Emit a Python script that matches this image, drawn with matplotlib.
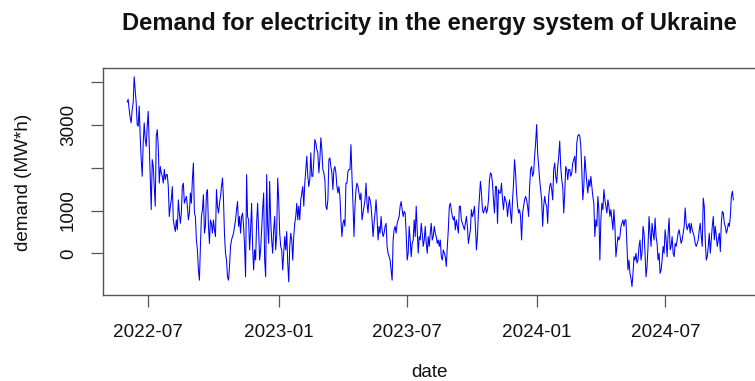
"""
Daily electricity demand in the energy system of Ukraine, 2022-06 .. 2024-10.
Base-graphics look: boxed axes, outward ticks, blue line.
"""

import pandas as pd
import matplotlib.pyplot as plt
import matplotlib.dates as mdates

# =============================================================================
# 1. Data (MW*h), evenly spaced in time between the first and last date
# =============================================================================

start_date = "2022-06-01"
end_date = "2024-10-05"

demand_2022 = [
    3540, 3600, 3360, 3170, 3050, 3360, 3520, 4130, 3830, 3520, 3010, 2970,
    3440, 2740, 2190, 1800, 2580, 3050, 2660, 2500, 2970, 3320, 2580, 1800,
    1020, 2190, 2030, 1560, 1100, 2740, 2890, 2500, 1640, 2030, 1880, 1800,
    1640, 1960, 1720, 1840, 1840, 1560, 860, 1100, 1250, 1560, 780, 630,
    510, 780, 550, 1250, 940, 700, 940, 1560, 1640, 1170, 1250, 1330,
    1100, 780, 940, 1410, 1170, 1720, 2110, 940, 860, 310, 80, -390,
    -630, 160, 860, 1020, 1370, 470, 630, 1410, 1490, 630, 230, 780,
    700, 470, 780, 550, 390, 1490, 1100, 940, 1170, 1330, 1560, 1760,
    1250, 430, 0, -160, -550, -630, -310, 160, 310, 390, 470, 630,
    780, 1020, 1210, 630, 860, 470, 860, 940, 630, 160, -550, 1840,
    860, 780, 80, 550, 1170, 160, -390, 80, -160, 700, 1170, 550,
    -160, 80, 550, 1020, 1410, -160, -550, 1840, 630, 230, 1680, 780,
    310, 0, 550, 860, 80, 430, 1760, 1250, 470, 160, 80, -390,
    0, 390, 80, 510, -230, -670, 160, 470, 310, -160, 390, 700,
    860, 1170, 780, 1100, 780, 1250, 1410, 1560, 1100, 1640, 1960, 2270,
    1800, 1560, 1720, 2350, 1800, 1800, 2190, 2660, 2580, 2420, 2350, 1880,
    2190, 2700, 2420, 1960, 1880, 1720, 1100, 1020, 1250, 2190, 2230, 2030,
    1880, 1490, 1960, 2030, 1880, 1560, 1410, 1560, 1330, 780, 390, 700,
    780, 630, 1640, 1640, 1920, 1960,
]

demand_2023 = [
    1960, 2540, 1800, 1170, 390, 1100, 1490, 1640, 1560, 1410, 1250, 1410,
    780, 940, 1100, 1250, 1640, 1170, 940, 1330, 1250, 1100, 780, 390,
    700, 940, 1250, 860, 310, 630, 470, 860, 550, 390, 470, 630,
    700, 160, 0, -80, -160, -390, -630, 310, 550, 630, 470, 700,
    780, 860, 1100, 1210, 1020, 860, 980, 940, 470, -160, 0, 630,
    310, -80, 230, 310, 780, 390, 1100, 550, 0, 390, 310, 700,
    470, 160, 310, 630, 230, 0, 390, 160, 470, 700, 310, 390,
    630, 470, 390, 230, 310, 160, 310, -80, -160, 80, 0, -80,
    -310, 160, 550, 1100, 1170, 1020, 860, 780, 860, 550, 780, 630,
    470, 1100, 1100, 780, 700, 630, 550, 700, 860, 630, 230, 390,
    550, 1020, 860, 940, 1100, 630, 80, 390, 940, 1330, 1680, 1410,
    1020, 940, 1020, 1100, 940, 1020, 1250, 1720, 1880, 1840, 1640, 1250,
    940, 1560, 1560, 700, 1490, 1410, 1410, 1640, 1250, 1020, 1330, 1250,
    1170, 860, 1100, 1250, 940, 700, 1250, 1640, 2190, 1880, 1410, 1100,
    940, 1020, 860, 310, 940, 1100, 1250, 1330, 1250, 1100, 860, 1560,
    1960, 2030, 1800, 1880, 2270, 2580, 3010, 2350, 2030, 1720, 1490, 1250,
    630, 1100, 1330, 1170, 1100, 700, 1330, 1560, 1640, 1490, 1250, 1960,
    2110, 1800, 1640, 2030, 2270, 2620, 2030, 1720, 1560, 940, 1410, 2030,
    1960, 1720, 1960, 1960, 1800, 1880, 2110, 2190, 2270, 1880, 2580, 2740,
    2780, 2740,
]

demand_2024 = [
    2500, 1960, 1250, 1560, 2270, 1960, 1640, 1410, 1720, 1560, 1800, 1560,
    1330, 1170, 390, 780, 630, 1330, 1020, -160, 780, 1170, 1020, 1490,
    1250, 1100, 940, 1250, 1100, 860, 1020, 780, 550, 1020, 630, -80,
    160, 390, 310, 390, 630, 700, 780, 630, 780, 780, 160, -390,
    -160, -470, -590, -780, -470, -80, -160, 0, -230, -160, 160, 310,
    -160, 0, 630, 470, 0, -550, -310, 160, 860, 470, 160, 700,
    470, 310, 820, 390, 230, -160, 0, -470, -390, -160, 160, 0,
    550, 310, -80, 470, 820, 80, 160, 390, 0, -80, 230, 160,
    310, 470, 550, 390, 230, 310, 470, 630, 1060, 700, 550, 630,
    700, 470, 700, 550, 470, 390, 230, 160, 230, 310, 550, 700,
    390, 160, 1290, 1100, 310, -160, -80, 160, 470, 0, 310, 630,
    860, 310, 630, 390, 160, 310, 470, 40, 700, 980, 940, 700,
    630, 470, 550, 700, 630, 860, 1330, 1450, 1250,
]

demand = demand_2022 + demand_2023 + demand_2024
dates = pd.date_range(start_date, end_date, periods=len(demand))

# =============================================================================
# 2. Figure
# =============================================================================

plt.rcParams["font.family"] = ["Liberation Sans", "DejaVu Sans"]

W, H = 755, 381
fig = plt.figure(figsize=(W / 100, H / 100), dpi=100)
# plot region in pixels: left 103, bottom edge at 295 from the top
ax = fig.add_axes([102.9 / W, (H - 295) / H, 654.7 / W, 226.7 / H])

ax.plot(dates, demand, color="#0000ff", linewidth=0.75)

# R-style 4% padding on both axes
span = dates[-1] - dates[0]
ax.set_xlim(dates[0] - 0.04 * span, dates[-1] + 0.04 * span)
lo, hi = min(demand), max(demand)
pad = 0.04 * (hi - lo)
ax.set_ylim(lo - pad, hi + pad)

x_ticks = pd.to_datetime(["2022-07-01", "2023-01-01", "2023-07-01",
                          "2024-01-01", "2024-07-01"])
ax.set_xticks(x_ticks)
ax.xaxis.set_major_formatter(mdates.DateFormatter("%Y-%m"))

y_ticks = [0, 1000, 2000, 3000, 4000]
y_labels = ["0", "1000", "", "3000", ""]
ax.set_yticks(y_ticks)
ax.set_yticklabels(y_labels, rotation=90, va="center")

for side in ax.spines.values():
    side.set_color("#555555")
    side.set_linewidth(1.0)

ax.tick_params(axis="both", direction="out", length=8.6, width=0.9,
               color="#555555", labelsize=13.6, labelcolor="#111111")
ax.tick_params(axis="x", pad=12)
ax.tick_params(axis="y", pad=10)

fig.text(429 / W, 1 - 30 / H, "Demand for electricity in the energy system of Ukraine",
         ha="center", va="baseline", fontsize=17.1, fontweight="bold",
         color="#111111")
fig.text(23.5 / W, 1 - 182 / H, "demand (MW*h)", rotation=90,
         ha="center", va="center", fontsize=13.6, color="#111111")
fig.text(430 / W, 1 - 377 / H, "date", ha="center", va="baseline",
         fontsize=13.6, color="#111111")

fig.savefig("out.png", dpi=100)
